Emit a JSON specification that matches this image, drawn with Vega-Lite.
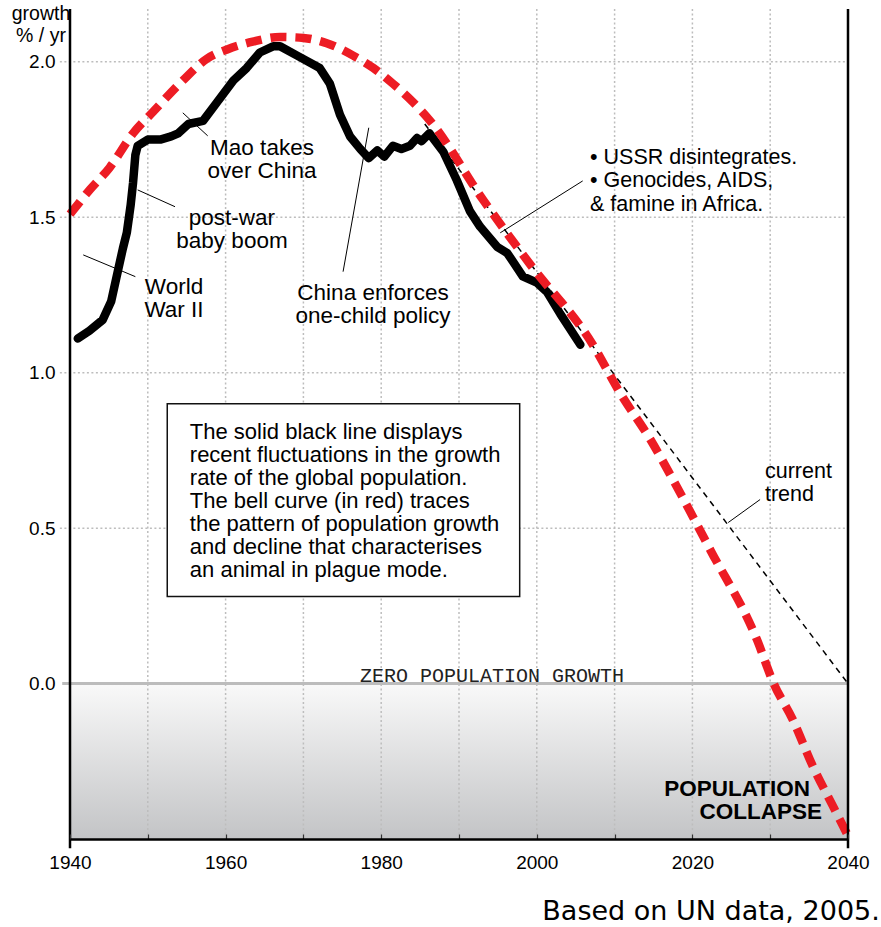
{
  "$schema": "https://vega.github.io/schema/vega-lite/v6.json",
  "width": 778,
  "height": 830,
  "autosize": {"type": "none"},
  "padding": {"left": 70, "top": 9, "right": 33, "bottom": 88},
  "background": "white",
  "config": {"view": {"stroke": null}, "font": "Liberation Sans"},
  "datasets": {
    "shade": [{"x": 1940, "x2": 2040, "y": 0, "y2": -0.5}],
    "vgrid": [
      {"x": 1950, "y": -0.5, "y2": 2.17}, {"x": 1960, "y": -0.5, "y2": 2.17},
      {"x": 1970, "y": -0.5, "y2": 2.17}, {"x": 1980, "y": -0.5, "y2": 2.17},
      {"x": 1990, "y": -0.5, "y2": 2.17}, {"x": 2000, "y": -0.5, "y2": 2.17},
      {"x": 2010, "y": -0.5, "y2": 2.17}, {"x": 2020, "y": -0.5, "y2": 2.17},
      {"x": 2030, "y": -0.5, "y2": 2.17}
    ],
    "hgrid": [
      {"x": 1938.7, "x2": 2040, "y": 0.5}, {"x": 1938.7, "x2": 2040, "y": 1.0},
      {"x": 1938.7, "x2": 2040, "y": 1.5}, {"x": 1938.7, "x2": 2040, "y": 2.0}
    ],
    "zero": [{"x": 1939, "x2": 2040, "y": 0}],
    "box": [{"x": 1952.5, "x2": 1997.8, "y": 0.9, "y2": 0.28}],
    "trend": [{"x": 1985.6, "x2": 2040, "y": 1.8, "y2": 0.0}],
    "actual": [
      {"x": 1941.0, "y": 1.11}, {"x": 1942.5, "y": 1.135}, {"x": 1944.2, "y": 1.17},
      {"x": 1945.3, "y": 1.23}, {"x": 1946.0, "y": 1.31}, {"x": 1946.8, "y": 1.40},
      {"x": 1947.3, "y": 1.45}, {"x": 1947.8, "y": 1.54}, {"x": 1948.1, "y": 1.61},
      {"x": 1948.4, "y": 1.70}, {"x": 1948.7, "y": 1.73}, {"x": 1950.0, "y": 1.75},
      {"x": 1951.6, "y": 1.75}, {"x": 1953.0, "y": 1.76}, {"x": 1953.9, "y": 1.77},
      {"x": 1955.2, "y": 1.80}, {"x": 1957.1, "y": 1.81}, {"x": 1958.9, "y": 1.87},
      {"x": 1961.0, "y": 1.94}, {"x": 1962.7, "y": 1.98}, {"x": 1964.4, "y": 2.03},
      {"x": 1966.1, "y": 2.05}, {"x": 1967.0, "y": 2.05}, {"x": 1969.2, "y": 2.02},
      {"x": 1972.1, "y": 1.98}, {"x": 1973.4, "y": 1.93}, {"x": 1974.7, "y": 1.83},
      {"x": 1976.0, "y": 1.76}, {"x": 1977.3, "y": 1.72}, {"x": 1978.4, "y": 1.69},
      {"x": 1979.5, "y": 1.715}, {"x": 1980.4, "y": 1.695}, {"x": 1981.5, "y": 1.73},
      {"x": 1982.6, "y": 1.72}, {"x": 1983.7, "y": 1.73}, {"x": 1984.6, "y": 1.755},
      {"x": 1985.2, "y": 1.745}, {"x": 1986.2, "y": 1.77}, {"x": 1988.0, "y": 1.71},
      {"x": 1989.7, "y": 1.62}, {"x": 1991.4, "y": 1.52}, {"x": 1992.7, "y": 1.47},
      {"x": 1994.9, "y": 1.405}, {"x": 1996.2, "y": 1.385}, {"x": 1998.2, "y": 1.31},
      {"x": 2000.0, "y": 1.29}, {"x": 2001.3, "y": 1.26}, {"x": 2003.0, "y": 1.19},
      {"x": 2005.6, "y": 1.09}
    ],
    "bell": [
      {"x": 1940.0, "y": 1.51}, {"x": 1942.6, "y": 1.59}, {"x": 1945.1, "y": 1.66},
      {"x": 1948.1, "y": 1.77}, {"x": 1950.7, "y": 1.84}, {"x": 1954.5, "y": 1.94},
      {"x": 1957.6, "y": 2.01}, {"x": 1960.2, "y": 2.04}, {"x": 1963.5, "y": 2.065},
      {"x": 1967.0, "y": 2.08}, {"x": 1970.0, "y": 2.077}, {"x": 1973.0, "y": 2.06},
      {"x": 1976.4, "y": 2.02}, {"x": 1979.0, "y": 1.98}, {"x": 1981.5, "y": 1.93},
      {"x": 1984.1, "y": 1.87}, {"x": 1986.3, "y": 1.81}, {"x": 1993.1, "y": 1.556},
      {"x": 1999.1, "y": 1.35}, {"x": 2007.2, "y": 1.09}, {"x": 2010.7, "y": 0.935},
      {"x": 2014.6, "y": 0.785}, {"x": 2018.0, "y": 0.633},
      {"x": 2022.3, "y": 0.43}, {"x": 2028.3, "y": 0.141}, {"x": 2030.4, "y": 0.003},
      {"x": 2032.9, "y": -0.116}, {"x": 2035.5, "y": -0.267}, {"x": 2038.1, "y": -0.396},
      {"x": 2040.0, "y": -0.49}
    ],
    "leaders": [
      {"x": 1954.5, "y": 1.836, "x2": 1957.7, "y2": 1.762},
      {"x": 1948.7, "y": 1.588, "x2": 1953.5, "y2": 1.534},
      {"x": 1941.7, "y": 1.379, "x2": 1948.4, "y2": 1.309},
      {"x": 1978.4, "y": 1.788, "x2": 1975.1, "y2": 1.325},
      {"x": 2005.9, "y": 1.617, "x2": 1995.3, "y2": 1.45},
      {"x": 2028.7, "y": 0.592, "x2": 2024.6, "y2": 0.518}
    ],
    "borders": [
      {"x": 1940, "y": -0.53, "y2": 2.17},
      {"x": 2040, "y": -0.53, "y2": 2.17}
    ],
    "boxtext": [
      {"x": 1955.4, "y": 0.788, "text": "The solid black line displays\nrecent fluctuations in the growth\nrate of the global population.\nThe bell curve (in red) traces\nthe pattern of population growth\nand decline that characterises\nan animal in plague mode."}
    ],
    "centernotes": [
      {"x": 1964.68, "y": 1.701, "text": "Mao takes\nover China"},
      {"x": 1960.82, "y": 1.476, "text": "post-war\nbaby boom"},
      {"x": 1953.37, "y": 1.254, "text": "World\nWar II"},
      {"x": 1978.95, "y": 1.235, "text": "China enforces\none-child policy"}
    ],
    "leftnotes": [
      {"x": 2006.84, "y": 1.672, "text": "• USSR disintegrates.\n• Genocides, AIDS,\n\u00a0\u00a0\u00a0& famine in Africa."},
      {"x": 2029.33, "y": 0.662, "text": "current\ntrend"}
    ],
    "ylabel": [{"x": 1936.27, "y": 2.135, "text": "growth\n% / yr"}],
    "collapse": [
      {"x": 2035.12, "y": -0.363, "text": "POPULATION"},
      {"x": 2036.66, "y": -0.437, "text": "COLLAPSE"}
    ],
    "zpg": [{"x": 1994.24, "y": 0.0064, "text": "ZERO POPULATION GROWTH"}],
    "source": [{"x": 2044.09, "y": -0.759, "text": "Based on UN data, 2005."}]
  },
  "layer": [
    {
      "data": {"name": "shade"},
      "mark": {"type": "rect", "fill": {"gradient": "linear", "x1": 0, "y1": 0, "x2": 0, "y2": 1, "stops": [{"offset": 0, "color": "#f9f9f9"}, {"offset": 1, "color": "#c3c4c6"}]}},
      "encoding": {
        "x": {"field": "x", "type": "quantitative", "scale": {"domain": [1940, 2040], "nice": false, "zero": false},
          "axis": {"values": [1940, 1950, 1960, 1970, 1980, 1990, 2000, 2010, 2020, 2030, 2040], "format": "d",
            "labelExpr": "datum.value % 20 == 0 ? datum.label : ''", "grid": false, "domainColor": "black", "domainWidth": 2.5,
            "tickColor": "#333", "tickWidth": 1.2, "tickSize": -5, "labelPadding": 19, "labelFontSize": 19,
            "labelFont": "Liberation Sans", "labelColor": "black", "title": null, "zindex": 1, "labelFlush": false, "labelOverlap": false, "labelBound": false}},
        "x2": {"field": "x2"},
        "y": {"field": "y", "type": "quantitative", "scale": {"domain": [-0.5, 2.17], "nice": false, "zero": false},
          "axis": {"values": [0, 0.5, 1, 1.5, 2], "format": ".1f", "grid": false, "domain": false, "ticks": false,
            "labelPadding": 15, "labelFontSize": 19, "labelFont": "Liberation Sans", "labelColor": "black", "title": null}},
        "y2": {"field": "y2"}
      }
    },
    {
      "data": {"name": "vgrid"},
      "mark": {"type": "rule", "color": "#bdbdbd", "strokeWidth": 1.5, "strokeDash": [2, 2.5]},
      "encoding": {
        "x": {"field": "x", "type": "quantitative", "scale": {"domain": [1940, 2040], "nice": false, "zero": false}},
        "y": {"field": "y", "type": "quantitative", "scale": {"domain": [-0.5, 2.17], "nice": false, "zero": false}},
        "y2": {"field": "y2"}
      }
    },
    {
      "data": {"name": "hgrid"},
      "mark": {"type": "rule", "color": "#bdbdbd", "strokeWidth": 1.5, "strokeDash": [2, 2.5]},
      "encoding": {
        "x": {"field": "x", "type": "quantitative", "scale": {"domain": [1940, 2040], "nice": false, "zero": false}},
        "x2": {"field": "x2"},
        "y": {"field": "y", "type": "quantitative", "scale": {"domain": [-0.5, 2.17], "nice": false, "zero": false}}
      }
    },
    {
      "data": {"name": "zero"},
      "mark": {"type": "rule", "color": "#bcbcbc", "strokeWidth": 3},
      "encoding": {
        "x": {"field": "x", "type": "quantitative", "scale": {"domain": [1940, 2040], "nice": false, "zero": false}},
        "x2": {"field": "x2"},
        "y": {"field": "y", "type": "quantitative", "scale": {"domain": [-0.5, 2.17], "nice": false, "zero": false}}
      }
    },
    {
      "data": {"name": "box"},
      "mark": {"type": "rect", "fill": "white", "stroke": "#111", "strokeWidth": 1.5},
      "encoding": {
        "x": {"field": "x", "type": "quantitative", "scale": {"domain": [1940, 2040], "nice": false, "zero": false}},
        "x2": {"field": "x2"},
        "y": {"field": "y", "type": "quantitative", "scale": {"domain": [-0.5, 2.17], "nice": false, "zero": false}},
        "y2": {"field": "y2"}
      }
    },
    {
      "data": {"name": "boxtext"},
      "mark": {"type": "text", "align": "left", "baseline": "alphabetic", "fontSize": 22, "font": "Liberation Sans", "color": "black", "lineBreak": "\n", "lineHeight": 23},
      "encoding": {
        "x": {"field": "x", "type": "quantitative", "scale": {"domain": [1940, 2040], "nice": false, "zero": false}},
        "y": {"field": "y", "type": "quantitative", "scale": {"domain": [-0.5, 2.17], "nice": false, "zero": false}},
        "text": {"field": "text"}
      }
    },
    {
      "data": {"name": "trend"},
      "mark": {"type": "rule", "color": "black", "strokeWidth": 1.5, "strokeDash": [6, 5]},
      "encoding": {
        "x": {"field": "x", "type": "quantitative", "scale": {"domain": [1940, 2040], "nice": false, "zero": false}},
        "x2": {"field": "x2"},
        "y": {"field": "y", "type": "quantitative", "scale": {"domain": [-0.5, 2.17], "nice": false, "zero": false}},
        "y2": {"field": "y2"}
      }
    },
    {
      "data": {"name": "actual"},
      "mark": {"type": "line", "color": "black", "strokeWidth": 8.5, "strokeCap": "round", "strokeJoin": "round"},
      "encoding": {
        "x": {"field": "x", "type": "quantitative", "scale": {"domain": [1940, 2040], "nice": false, "zero": false}},
        "y": {"field": "y", "type": "quantitative", "scale": {"domain": [-0.5, 2.17], "nice": false, "zero": false}}
      }
    },
    {
      "data": {"name": "bell"},
      "mark": {"type": "line", "color": "#ed1c24", "strokeWidth": 8.5, "strokeDash": [16, 9], "interpolate": "monotone"},
      "encoding": {
        "x": {"field": "x", "type": "quantitative", "scale": {"domain": [1940, 2040], "nice": false, "zero": false}},
        "y": {"field": "y", "type": "quantitative", "scale": {"domain": [-0.5, 2.17], "nice": false, "zero": false}}
      }
    },
    {
      "data": {"name": "leaders"},
      "mark": {"type": "rule", "color": "black", "strokeWidth": 1},
      "encoding": {
        "x": {"field": "x", "type": "quantitative", "scale": {"domain": [1940, 2040], "nice": false, "zero": false}},
        "x2": {"field": "x2"},
        "y": {"field": "y", "type": "quantitative", "scale": {"domain": [-0.5, 2.17], "nice": false, "zero": false}},
        "y2": {"field": "y2"}
      }
    },
    {
      "data": {"name": "borders"},
      "mark": {"type": "rule", "color": "black", "strokeWidth": 2.5},
      "encoding": {
        "x": {"field": "x", "type": "quantitative", "scale": {"domain": [1940, 2040], "nice": false, "zero": false}},
        "y": {"field": "y", "type": "quantitative", "scale": {"domain": [-0.5, 2.17], "nice": false, "zero": false}},
        "y2": {"field": "y2"}
      }
    },
    {
      "data": {"name": "centernotes"},
      "mark": {"type": "text", "align": "center", "baseline": "alphabetic", "fontSize": 22.5, "font": "Liberation Sans", "color": "black", "lineBreak": "\n", "lineHeight": 23},
      "encoding": {
        "x": {"field": "x", "type": "quantitative", "scale": {"domain": [1940, 2040], "nice": false, "zero": false}},
        "y": {"field": "y", "type": "quantitative", "scale": {"domain": [-0.5, 2.17], "nice": false, "zero": false}},
        "text": {"field": "text"}
      }
    },
    {
      "data": {"name": "leftnotes"},
      "mark": {"type": "text", "align": "left", "baseline": "alphabetic", "fontSize": 21.5, "font": "Liberation Sans", "color": "black", "lineBreak": "\n", "lineHeight": 23.5},
      "encoding": {
        "x": {"field": "x", "type": "quantitative", "scale": {"domain": [1940, 2040], "nice": false, "zero": false}},
        "y": {"field": "y", "type": "quantitative", "scale": {"domain": [-0.5, 2.17], "nice": false, "zero": false}},
        "text": {"field": "text"}
      }
    },
    {
      "data": {"name": "ylabel"},
      "mark": {"type": "text", "align": "center", "baseline": "alphabetic", "fontSize": 19.5, "font": "Liberation Sans", "color": "black", "lineBreak": "\n", "lineHeight": 22},
      "encoding": {
        "x": {"field": "x", "type": "quantitative", "scale": {"domain": [1940, 2040], "nice": false, "zero": false}},
        "y": {"field": "y", "type": "quantitative", "scale": {"domain": [-0.5, 2.17], "nice": false, "zero": false}},
        "text": {"field": "text"}
      }
    },
    {
      "data": {"name": "collapse"},
      "mark": {"type": "text", "align": "right", "baseline": "alphabetic", "fontSize": 22.5, "fontWeight": "bold", "font": "Liberation Sans", "color": "black"},
      "encoding": {
        "x": {"field": "x", "type": "quantitative", "scale": {"domain": [1940, 2040], "nice": false, "zero": false}},
        "y": {"field": "y", "type": "quantitative", "scale": {"domain": [-0.5, 2.17], "nice": false, "zero": false}},
        "text": {"field": "text"}
      }
    },
    {
      "data": {"name": "zpg"},
      "mark": {"type": "text", "align": "center", "baseline": "alphabetic", "fontSize": 20, "font": "Liberation Mono", "color": "#222"},
      "encoding": {
        "x": {"field": "x", "type": "quantitative", "scale": {"domain": [1940, 2040], "nice": false, "zero": false}},
        "y": {"field": "y", "type": "quantitative", "scale": {"domain": [-0.5, 2.17], "nice": false, "zero": false}},
        "text": {"field": "text"}
      }
    },
    {
      "data": {"name": "source"},
      "mark": {"type": "text", "align": "right", "baseline": "alphabetic", "fontSize": 27, "font": "DejaVu Sans", "color": "black"},
      "encoding": {
        "x": {"field": "x", "type": "quantitative", "scale": {"domain": [1940, 2040], "nice": false, "zero": false}},
        "y": {"field": "y", "type": "quantitative", "scale": {"domain": [-0.5, 2.17], "nice": false, "zero": false}},
        "text": {"field": "text"}
      }
    }
  ]
}
